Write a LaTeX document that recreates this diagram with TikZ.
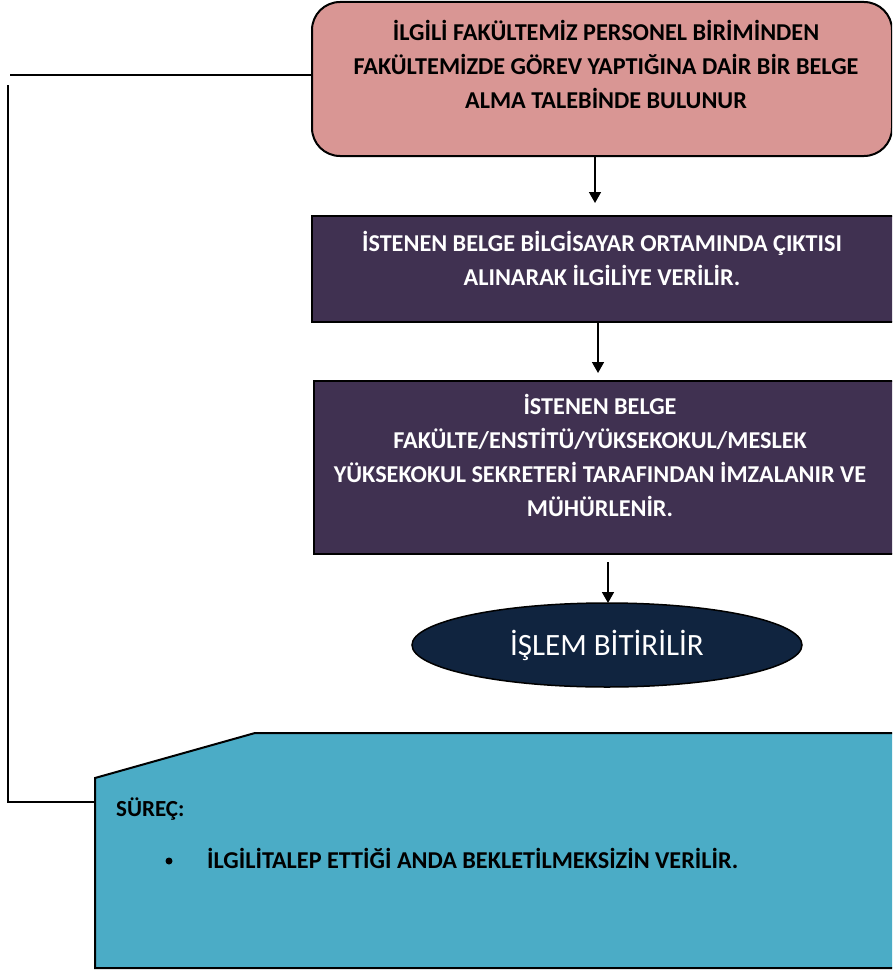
\documentclass[tikz,border=0pt]{standalone}
\usepackage{fontspec}
\setmainfont{Carlito}
\usetikzlibrary{arrows.meta,shapes.geometric}
\definecolor{pinkfill}{HTML}{D99694}
\definecolor{purplefill}{HTML}{403151}
\definecolor{navyfill}{HTML}{10243F}
\definecolor{tealfill}{HTML}{4BACC6}
\begin{document}
\begin{tikzpicture}[x=1pt,y=-1pt,
  boxline/.style={draw=black,line width=2pt},
  pinkbox/.style={boxline,fill=pinkfill,rounded corners=28pt,anchor=north west,inner sep=0pt},
  purplebox/.style={boxline,fill=purplefill,anchor=north west,inner sep=0pt},
  boxtext/.style={anchor=north,align=center,inner sep=0pt,font=\bfseries\fontsize{24.2}{34}\selectfont},
  conn/.style={draw=black,line width=1.6pt},
  arr/.style={conn,-{Triangle[length=11pt,width=12pt]}}
]
\useasboundingbox (0,0) rectangle (892,974);
\clip (0,0) rectangle (892,974);
% boxes
\node[pinkbox,minimum width=580pt,minimum height=154pt] (b1) at (311,1) {};
\node[boxtext,text=black] (t1) at (606,20) {İLGİLİ FAKÜLTEMİZ PERSONEL BİRİMİNDEN\\FAKÜLTEMİZDE GÖREV YAPTIĞINA DAİR BİR BELGE\\ALMA TALEBİNDE BULUNUR};
\node[purplebox,minimum width=600pt,minimum height=106pt] (b2) at (311,215) {};
\node[boxtext,text=white] (t2) at (602,231) {İSTENEN BELGE BİLGİSAYAR ORTAMINDA ÇIKTISI\\ALINARAK İLGİLİYE VERİLİR.};
\node[purplebox,minimum width=600pt,minimum height=173pt] (b3) at (313,380) {};
\node[boxtext,text=white] (t3) at (600,394) {İSTENEN BELGE\\FAKÜLTE/ENSTİTÜ/YÜKSEKOKUL/MESLEK\\YÜKSEKOKUL SEKRETERİ TARAFINDAN İMZALANIR VE\\MÜHÜRLENİR.};
\node[ellipse,draw=black,line width=1.5pt,fill=navyfill,minimum width=390pt,minimum height=84pt,inner sep=0pt,text=white,font=\fontsize{31}{34}\selectfont] (e) at (607,645) {İŞLEM BİTİRİLİR};
% bottom pentagon
\draw[boxline,fill=tealfill] (95,968) -- (95,778) -- (255,733) -- (900,733) -- (900,968) -- cycle;
\coordinate (pleft) at (95,802);
\node[anchor=base west,inner sep=0pt,font=\bfseries\fontsize{23}{28}\selectfont] (surec) at (116,816) {SÜREÇ:};
\node[circle,fill=black,inner sep=0pt,minimum size=7pt] (bul) at (169,861) {};
\node[anchor=base west,inner sep=0pt,font=\bfseries\fontsize{24.2}{28}\selectfont] (item) at (207,868) {İLGİLİTALEP ETTİĞİ ANDA BEKLETİLMEKSİZİN VERİLİR.};
% connectors
\coordinate (l1) at (10,75);
\coordinate (v1) at (8,85);
\draw[conn] (l1) -- (l1 -| b1.west);
\draw[conn] (v1) -- (v1 |- pleft) -- (pleft);
\coordinate (a1) at (595,155);
\coordinate (a1e) at (595,203);
\draw[arr] (a1) -- (a1e);
\coordinate (a2) at (598,321);
\coordinate (a2e) at (598,373);
\draw[arr] (a2) -- (a2e);
\coordinate (a3) at (608,562);
\coordinate (a3e) at (608,603);
\draw[arr] (a3) -- (a3e);
\end{tikzpicture}
\end{document}
